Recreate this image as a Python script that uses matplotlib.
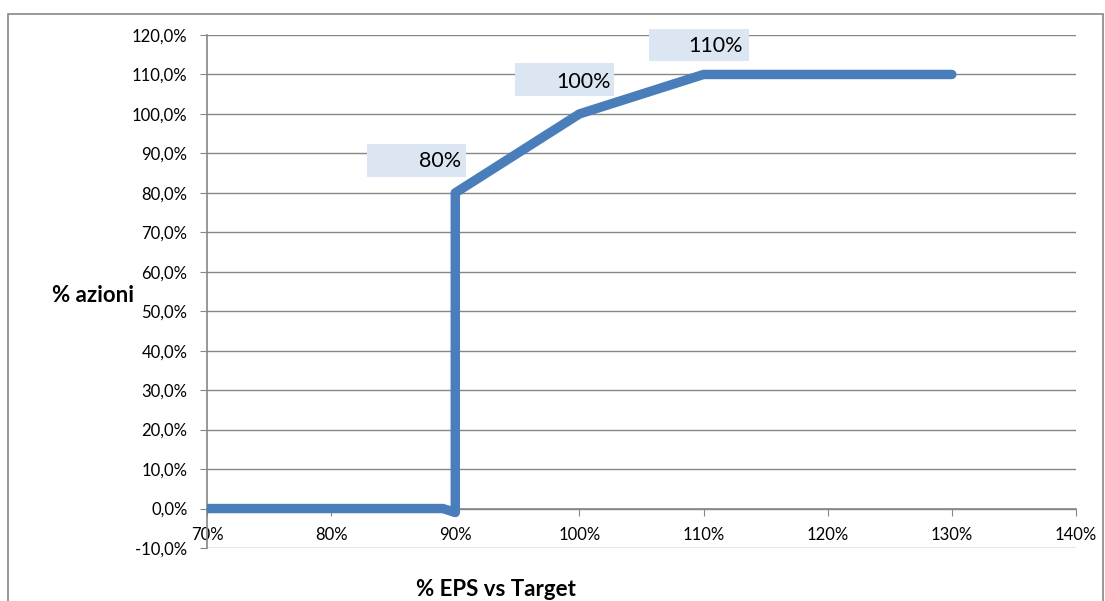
import matplotlib.pyplot as plt
from matplotlib.patches import Rectangle
from matplotlib.transforms import ScaledTranslation
from matplotlib.ticker import FuncFormatter

plt.rcParams['font.family'] = ['Lato', 'DejaVu Sans']

# data
eps_pct = [70, 89, 90, 90, 100, 110, 130]
azioni_pct = [0, 0, -1, 80, 100, 110, 110]

label_x = [90, 100, 110]
label_y = [80, 100, 110]
label_txt = ["80%", "100%", "110%"]
# box (left, bottom, width, height) and text anchor, in pixels relative to the point
label_box = [(-88, 16, 99, 33), (-64, 18, 99, 33), (-55, 13, 100, 32)]
label_txt_pos = [(6, 32), (31, 32), (39, 28)]

x_ticks = [70, 80, 90, 100, 110, 120, 130, 140]
y_ticks = list(range(-10, 121, 10))

W, H = 1105, 601
fig = plt.figure(figsize=(W / 100, H / 100), dpi=100)

# outer chart border
fig.patches.append(Rectangle((8 / W, -0.1), (1103 - 8) / W, 1 - 14 / H + 0.1,
                             transform=fig.transFigure, fill=False,
                             edgecolor='#868686', linewidth=1.2))

ax = fig.add_axes([207 / W, (H - 548) / H, (1076 - 207) / W, (548 - 35) / H])
ax.set_xlim(70, 140)
ax.set_ylim(-10, 120)

ax.plot(eps_pct, azioni_pct, color='#4a7ebb', linewidth=6.8,
        solid_capstyle='round', solid_joinstyle='round', zorder=3)

grid_c = '#868686'
ax.set_yticks(y_ticks)
ax.set_xticks(x_ticks)
ax.yaxis.grid(True, color=grid_c, linewidth=1)
ax.set_axisbelow(True)
ax.yaxis.set_major_formatter(FuncFormatter(lambda v, p: f"{v:.1f}%".replace('.', ',')))
ax.xaxis.set_major_formatter(FuncFormatter(lambda v, p: f"{v:.0f}%"))

for s in ['top', 'right']:
    ax.spines[s].set_visible(False)
ax.spines['left'].set_color(grid_c)
ax.spines['bottom'].set_color(grid_c)
ax.spines['bottom'].set_position(('data', 0))
ax.spines['left'].set_linewidth(1.2)
ax.spines['bottom'].set_linewidth(1.2)

ax.tick_params(axis='y', direction='out', length=5, color=grid_c, labelsize=12,
               pad=9, labelcolor='black')
ax.tick_params(axis='x', direction='out', length=5, color=grid_c, labelsize=12,
               pad=8, labelcolor='black')

for x, y, t, (bx, by, bw, bh), (tx, ty) in zip(label_x, label_y, label_txt,
                                                 label_box, label_txt_pos):
    tr = fig.dpi_scale_trans + ScaledTranslation(x, y, ax.transData)
    ax.add_patch(Rectangle((bx / 100, by / 100), bw / 100, bh / 100,
                           transform=tr, facecolor='#dce6f2', edgecolor='none',
                           zorder=4, clip_on=False))
    ax.text(tx / 100, ty / 100, t, transform=tr, ha='right', va='center',
            fontsize=15.5, zorder=5)

fig.text(93 / W, 1 - 296 / H, "% azioni", ha='center', va='center',
         fontsize=16, fontweight='bold')
fig.text(496 / W, 1 - 590 / H, "% EPS vs Target", ha='center', va='center',
         fontsize=16, fontweight='bold')

fig.savefig('out.png', dpi=100)
